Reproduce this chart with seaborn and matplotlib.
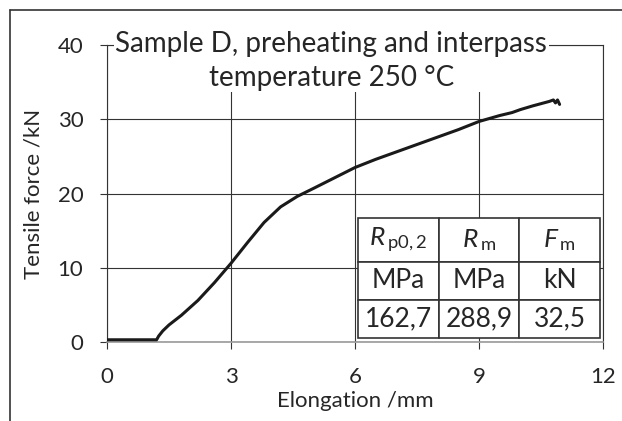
import numpy as np
import pandas as pd
import matplotlib
matplotlib.use("Agg")
import matplotlib.pyplot as plt
from matplotlib.lines import Line2D
import seaborn as sns

# data
elongation = [0.0, 0.5, 1.0, 1.2, 1.25, 1.35, 1.5, 1.8, 2.2, 2.6, 3.0, 3.4, 3.8, 4.2,
              4.6, 5.0, 5.5, 6.0, 6.5, 7.0, 7.5, 8.0, 8.5, 9.0, 9.5, 9.8, 10.0, 10.3,
              10.5, 10.7, 10.8, 10.85, 10.9, 10.95]
force = [0.3, 0.3, 0.3, 0.3, 0.8, 1.5, 2.3, 3.6, 5.6, 8.0, 10.6, 13.4, 16.1, 18.2,
         19.6, 20.7, 22.1, 23.5, 24.6, 25.6, 26.6, 27.6, 28.6, 29.7, 30.5, 30.9, 31.3,
         31.8, 32.1, 32.4, 32.6, 32.2, 32.6, 32.0]

table_header = ["$\\mathit{R}$$_{\\,\\mathrm{p0,2}}$", "$\\mathit{R}$$_{\\,\\mathrm{m}}$",
                "$\\mathit{F}$$_{\\,\\mathrm{m}}$"]
table_units = ["MPa", "MPa", "kN"]
table_values = ["162,7", "288,9", "32,5"]

x_ticks = [0, 3, 6, 9, 12]
y_ticks = [0, 10, 20, 30, 40]

sns.set_style("white")
plt.rcParams["font.family"] = ["Lato", "DejaVu Sans"]
plt.rcParams["mathtext.fontset"] = "custom"
plt.rcParams["mathtext.rm"] = "Lato"
plt.rcParams["mathtext.it"] = "Lato:italic"

fig = plt.figure(figsize=(6.22, 4.21), dpi=100)
ax = fig.add_axes([107 / 622, 1 - 342 / 421, 496 / 622, 297 / 421])

df = pd.DataFrame({"x": elongation, "y": force})
sns.lineplot(data=df, x="x", y="y", ax=ax, color="#1a1a1a", lw=2.2, zorder=3)

ax.set_xlim(0, 12)
ax.set_ylim(0, 40)
ax.set_xticks(x_ticks)
ax.set_yticks(y_ticks)
ax.grid(True, color="#333333", lw=0.8)
ax.tick_params(axis="both", labelsize=16, length=5, direction="out", color="#333333",
               bottom=True, left=True)
ax.tick_params(axis="x", pad=13)
ax.tick_params(axis="y", pad=12)
for s in ["top", "right", "left"]:
    ax.spines[s].set_color("#333333")
    ax.spines[s].set_linewidth(0.8)
ax.spines["bottom"].set_color("#999999")
ax.spines["bottom"].set_linewidth(1.2)
ax.set_xlabel("Elongation /mm", fontsize=16, labelpad=3)
ax.set_ylabel("Tensile force /kN", fontsize=16, labelpad=10)

ax.text(0.452, 0.946, "Sample D, preheating and interpass\ntemperature 250 °C",
        transform=ax.transAxes, ha="center", va="center", fontsize=20,
        linespacing=1.38, zorder=5,
        bbox=dict(facecolor="white", edgecolor="none", pad=1))

tbl = ax.table(cellText=[table_header, table_units, table_values],
               cellLoc="center", bbox=[251 / 496, 4 / 297, 242 / 496, 120 / 297],
               zorder=6)
tbl.auto_set_font_size(False)
tbl.set_fontsize(19)
for (r, c), cell in tbl.get_celld().items():
    cell.set_edgecolor("#333333")
    cell.set_linewidth(1.2)
    cell.set_facecolor("white")
    cell.set_height(44 if r == 0 else 38)

# outer frame of the figure
fig.add_artist(Line2D([10 / 622, 10 / 622], [0, 1 - 10 / 421], color="#333333",
                      lw=1.2, transform=fig.transFigure))
fig.add_artist(Line2D([10 / 622, 1], [1 - 10 / 421, 1 - 10 / 421], color="#333333",
                      lw=1.2, transform=fig.transFigure))

fig.savefig("out.png", dpi=100)
